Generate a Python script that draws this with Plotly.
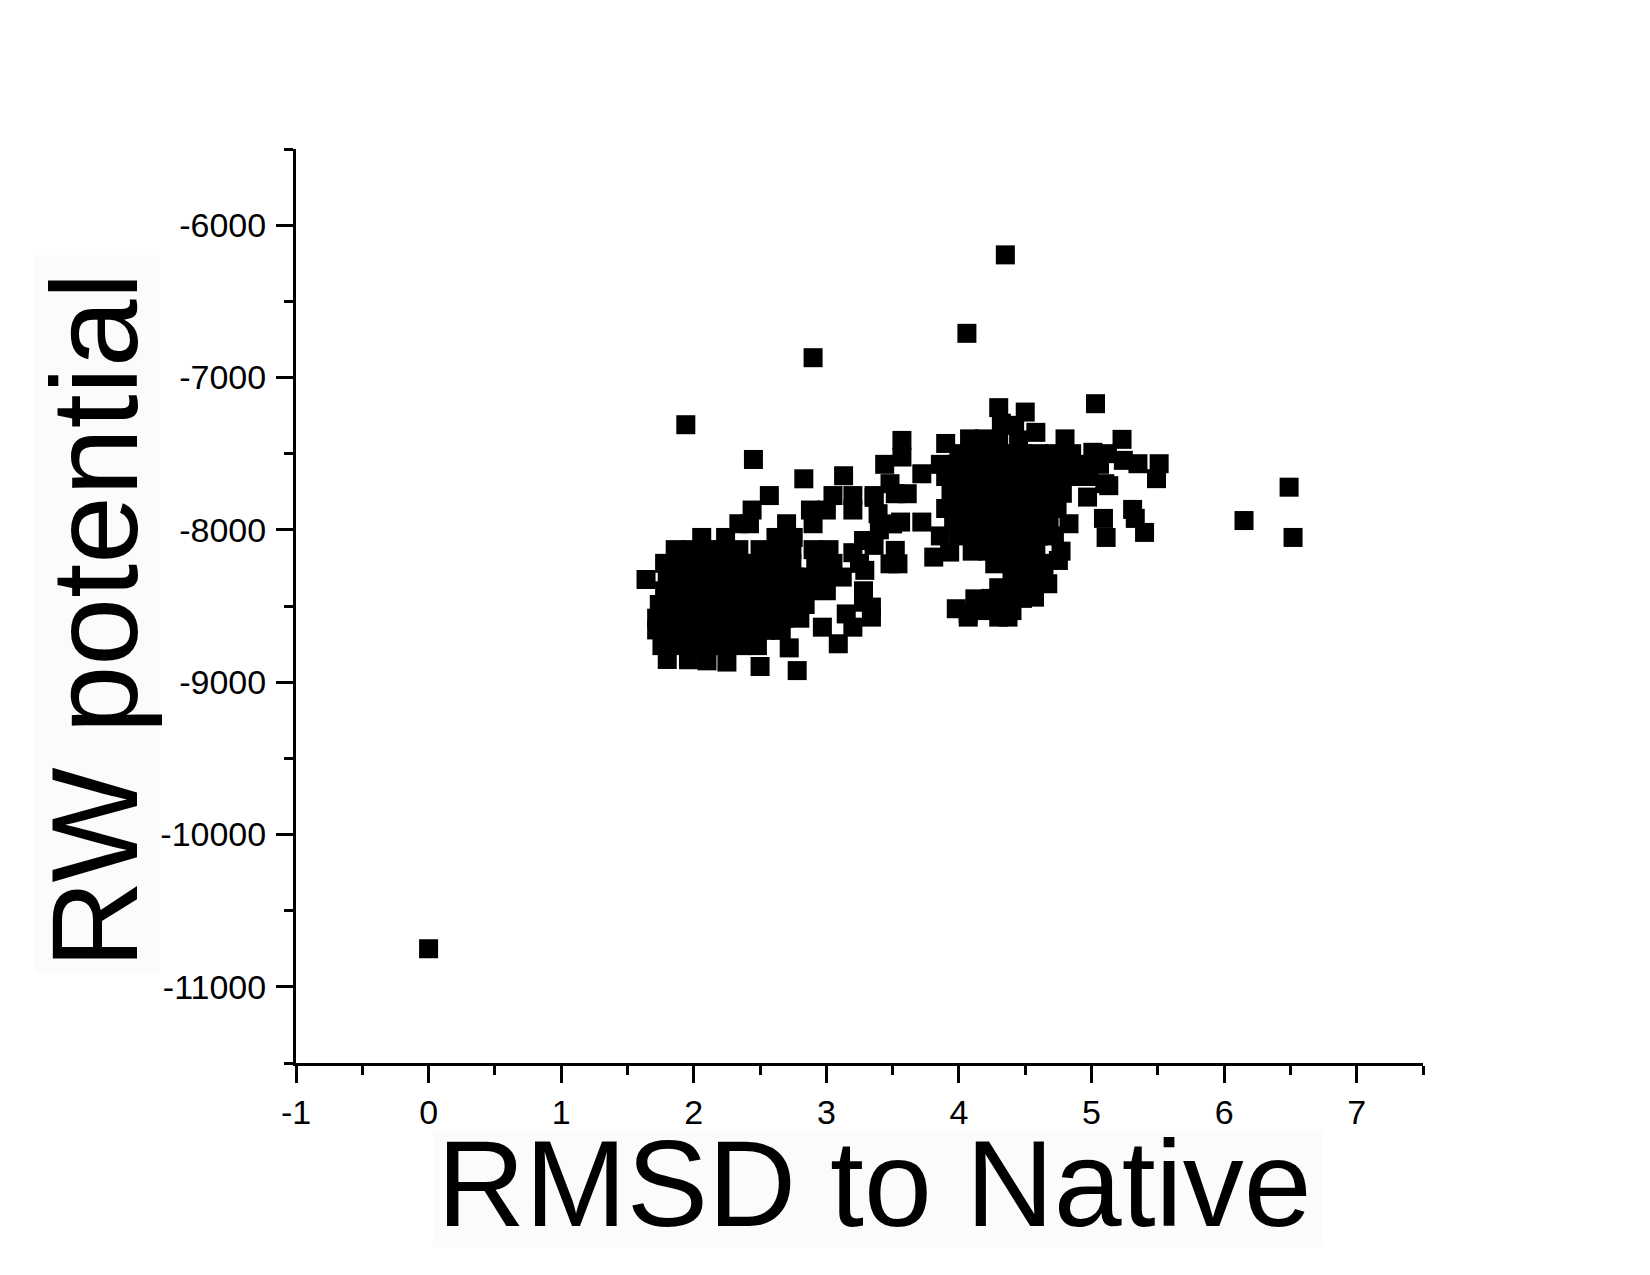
import plotly.graph_objects as go

# ---------------- data ----------------
outlier_rmsd = [0.00, 4.35, 4.06, 2.90, 1.94, 2.45, 6.49, 6.15, 6.52]
outlier_rw = [-10750, -6195, -6710, -6870, -7310, -7538, -7720, -7939, -8050]

left_rmsd = [
    2.06, 2.24, 2.62, 2.75,
    2.34, 2.42, 2.70, 2.90,
    2.44, 2.88, 3.00, 3.20,
    2.57, 3.05, 3.20, 3.36,
    2.83, 3.13, 3.48,
    1.86, 1.98, 2.10, 2.22, 2.34, 2.50, 2.62, 2.74, 2.90, 3.02,
    1.78, 1.91, 2.02, 2.14, 2.26, 2.38, 2.50, 2.62, 2.74, 2.92, 3.05, 3.25,
    1.64, 1.80, 1.92, 2.04, 2.16, 2.28, 2.40, 2.52, 2.64, 2.76, 2.88, 3.00, 3.12,
    1.78, 1.90, 2.02, 2.14, 2.26, 2.38, 2.50, 2.62, 2.74, 2.86, 3.00,
    1.74, 1.86, 1.98, 2.10, 2.22, 2.34, 2.46, 2.58, 2.70, 2.84, 3.28,
    1.72, 1.84, 1.96, 2.08, 2.20, 2.32, 2.44, 2.56, 2.68, 2.80, 3.15, 3.34,
    1.72, 1.82, 1.94, 2.06, 2.18, 2.30, 2.42, 2.54, 2.66, 2.97, 3.20,
    1.76, 1.88, 2.00, 2.12, 2.24, 2.36, 2.48, 2.72, 3.09,
    1.80, 1.96, 2.10, 2.25, 2.50,
    2.78,
]
left_rw = [
    -8050, -8050, -8050, -8050,
    -7960, -7960, -7960, -7960,
    -7870, -7870, -7870, -7870,
    -7775, -7775, -7775, -7775,
    -7665, -7645, -7697,
    -8130, -8130, -8130, -8130, -8130, -8130, -8130, -8130, -8130, -8130,
    -8220, -8220, -8220, -8220, -8220, -8220, -8220, -8220, -8220, -8220, -8220, -8220,
    -8326, -8310, -8310, -8310, -8310, -8310, -8310, -8310, -8310, -8310, -8310, -8310, -8310,
    -8400, -8400, -8400, -8400, -8400, -8400, -8400, -8400, -8400, -8400, -8400,
    -8490, -8490, -8490, -8490, -8490, -8490, -8490, -8490, -8490, -8490, -8475,
    -8580, -8580, -8580, -8580, -8580, -8580, -8580, -8580, -8580, -8580, -8552, -8573,
    -8657, -8660, -8660, -8660, -8660, -8660, -8660, -8660, -8660, -8639, -8639,
    -8760, -8760, -8760, -8760, -8760, -8760, -8760, -8775, -8748,
    -8851, -8853, -8860, -8868, -8897,
    -8924,
]

bridge_rmsd = [3.44, 3.57, 3.57, 3.72, 3.36, 3.52, 3.61, 3.39, 3.56, 3.72, 3.34, 3.52,
               3.54, 3.81, 3.93, 3.29, 3.34, 3.50, 3.28, 3.36, 3.48, 3.28, 3.20, 3.40]
bridge_rw = [-7570, -7413, -7522, -7632, -7787, -7763, -7763, -7894, -7949, -7949, -8070, -8135,
             -8223, -8179, -8146, -8266, -8507, -7961, -8070, -8102, -8223, -8400, -8150, -8000]

right_rmsd = [
    4.30, 4.50, 5.03,
    4.32, 4.42,
    4.58,
    3.90, 4.08, 4.19, 4.30, 4.45, 4.80, 5.23,
    4.00, 4.12, 4.24, 4.36, 4.48, 4.60, 4.72, 4.85, 5.01, 5.12,
    3.86, 3.98, 4.10, 4.22, 4.34, 4.46, 4.58, 4.70, 4.82, 4.94, 5.06, 5.24, 5.35, 5.51,
    3.90, 4.02, 4.14, 4.26, 4.38, 4.50, 4.62, 4.74, 4.86, 4.98, 5.10, 5.49,
    3.94, 4.06, 4.18, 4.30, 4.42, 4.54, 4.66, 4.78, 4.97, 5.13,
    3.90, 4.02, 4.14, 4.26, 4.38, 4.50, 4.62, 4.74, 5.31,
    3.96, 4.08, 4.20, 4.32, 4.44, 4.56, 4.68, 4.83, 5.09, 5.33,
    3.86, 4.00, 4.12, 4.24, 4.36, 4.48, 4.60, 4.72, 5.11, 5.40,
    4.10, 4.22, 4.34, 4.46, 4.58, 4.77,
    4.27, 4.40, 4.52, 4.64, 4.75,
    4.40, 4.52, 4.64,
    4.30, 4.44, 4.56, 4.67,
    4.12, 4.24, 4.36, 4.48, 4.57,
    3.98, 4.07, 4.20, 4.32, 4.40,
    4.07, 4.30, 4.37,
]
right_rw = [
    -7198, -7227, -7172,
    -7300, -7314,
    -7360,
    -7433, -7403, -7403, -7410, -7410, -7403, -7406,
    -7500, -7500, -7500, -7500, -7500, -7500, -7500, -7500, -7491, -7500,
    -7570, -7570, -7570, -7570, -7570, -7570, -7570, -7570, -7570, -7570, -7570, -7544, -7566, -7566,
    -7650, -7650, -7650, -7650, -7650, -7650, -7650, -7650, -7650, -7650, -7697, -7664,
    -7760, -7760, -7760, -7760, -7760, -7760, -7760, -7760, -7785, -7710,
    -7860, -7860, -7860, -7860, -7860, -7860, -7860, -7860, -7866,
    -7950, -7950, -7950, -7950, -7950, -7950, -7950, -7960, -7925, -7925,
    -8040, -8040, -8040, -8040, -8040, -8040, -8040, -8040, -8050, -8017,
    -8140, -8140, -8140, -8140, -8140, -8140,
    -8223, -8220, -8220, -8220, -8201,
    -8300, -8300, -8300,
    -8380, -8380, -8380, -8354,
    -8453, -8450, -8450, -8450, -8442,
    -8518, -8549, -8530, -8530, -8530,
    -8573, -8573, -8573,
]

x_tickvals = [-1, 0, 1, 2, 3, 4, 5, 6, 7]
x_ticktext = ["-1", "0", "1", "2", "3", "4", "5", "6", "7"]
y_tickvals = [-11000, -10000, -9000, -8000, -7000, -6000]
y_ticktext = ["-11000", "-10000", "-9000", "-8000", "-7000", "-6000"]

x_all = outlier_rmsd + left_rmsd + bridge_rmsd + right_rmsd
y_all = outlier_rw + left_rw + bridge_rw + right_rw

FONT = "Arial, Liberation Sans, sans-serif"

fig = go.Figure()
fig.add_trace(go.Scatter(
    x=x_all, y=y_all, mode="markers",
    marker=dict(symbol="square", size=19, color="black", line=dict(width=0)),
    showlegend=False,
))

axis_common = dict(
    showline=True, linecolor="black", linewidth=3,
    ticks="outside", ticklen=17, tickwidth=3, tickcolor="black",
    showgrid=False, zeroline=False,
    tickfont=dict(family=FONT, size=34, color="black"),
    tickmode="array",
)

fig.update_xaxes(
    range=[-1, 7.5], tickvals=x_tickvals, ticktext=x_ticktext,
    minor=dict(tickmode="linear", tick0=-1, dtick=0.5, ticks="outside",
               ticklen=9, tickwidth=3, tickcolor="black"),
    **axis_common,
)
fig.update_yaxes(
    range=[-11500, -5500], tickvals=y_tickvals, ticktext=y_ticktext,
    minor=dict(tickmode="linear", tick0=-11500, dtick=500, ticks="outside",
               ticklen=9, tickwidth=3, tickcolor="black"),
    ticklabelstandoff=3,
    **axis_common,
)

fig.update_layout(
    width=1634, height=1259,
    margin=dict(l=288, r=219, t=141, b=204),
    paper_bgcolor="white", plot_bgcolor="white",
    shapes=[
        dict(type="rect", xref="paper", yref="paper", layer="below",
             x0=-0.2325, x1=-0.1207, y0=0.0985, y1=0.884,
             fillcolor="#FBFBFB", line=dict(width=0)),
        dict(type="rect", xref="paper", yref="paper", layer="below",
             x0=0.1216, x1=0.9113, y0=-0.2013, y1=-0.0744,
             fillcolor="#FBFBFB", line=dict(width=0)),
    ],
    annotations=[
        dict(text="RW potential", xref="paper", yref="paper",
             x=-0.1784, y=0.4841, xanchor="center", yanchor="middle",
             textangle=-90, showarrow=False,
             font=dict(family=FONT, size=122, color="black")),
        dict(text="RMSD to Native", xref="paper", yref="paper",
             x=0.5129, y=-0.1324, xanchor="center", yanchor="middle",
             showarrow=False,
             font=dict(family=FONT, size=122, color="black")),
    ],
)

fig.write_html("out.html")
